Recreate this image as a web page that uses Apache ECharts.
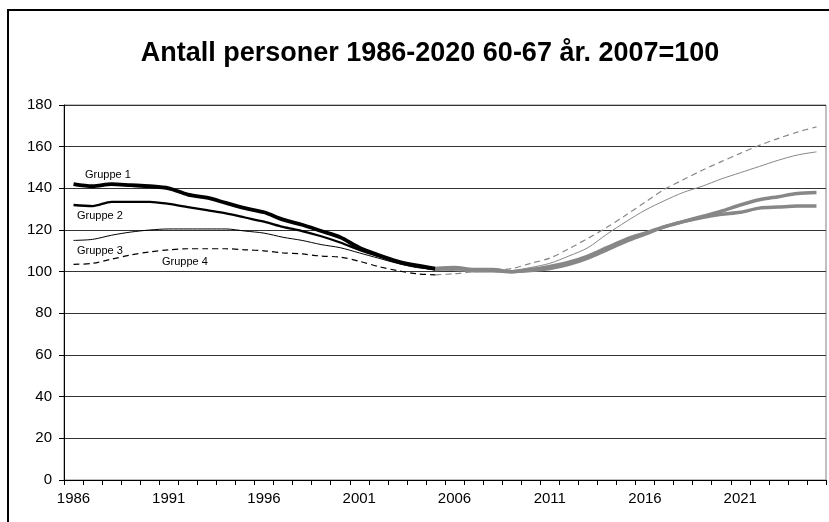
<!DOCTYPE html>
<html>
<head>
<meta charset="utf-8">
<script src="https://cdn.jsdelivr.net/npm/echarts@6/dist/echarts.min.js"></script>
<style>
  html, body { margin: 0; padding: 0; background: #fff; }
  #chart { width: 829px; height: 522px; }
</style>
</head>
<body>
<div id="chart"></div>
<script>
// Years on the category axis
const years = [];
for (let y = 1986; y <= 2025; y++) years.push(String(y));

// Registered values 1986-2005 (index, 2007 = 100)
const hist1 = [142, 141, 142, 141.5, 141, 140, 137, 135.5, 133, 130.5, 128.5, 125, 122.5, 119.5, 116.5, 111.5, 108, 105, 103, 101.5];
const hist2 = [132, 131.5, 133.5, 133.5, 133.5, 132.5, 131, 129.5, 128, 126, 124, 121.5, 119.5, 117, 114, 110.5, 107.5, 104.5, 102.5, 101];
const hist3 = [115, 115.5, 117.5, 119, 120, 120.5, 120.5, 120.5, 120.5, 119.5, 118.5, 116.5, 115, 113, 111.5, 109, 106.5, 104, 102, 101];
const hist4 = [103.5, 104, 106, 108, 109.5, 110.5, 111, 111, 111, 110.5, 110, 109, 108.5, 107.5, 107, 105, 102.5, 100.5, 99, 98.5];

// Projected values 2005-2025
const proj1 = [101.5, 102, 101, 101, 100, 100.5, 101.5, 103.5, 106.5, 110.5, 114.5, 118, 121.5, 124, 126, 127.5, 128.5, 130.5, 131, 131.5, 131.5];
const proj2 = [101, 101.5, 100.5, 100.5, 100, 101, 102.5, 104.5, 107.5, 111.5, 115.5, 118.5, 121.5, 124, 126.5, 129, 132, 134.5, 136, 137.5, 138];
const proj3 = [101, 100.5, 100, 100, 100.5, 102, 104, 107.5, 111.5, 118, 124, 129.5, 134, 138, 141, 144.5, 147.5, 150.5, 153.5, 156, 157.5];
const proj4 = [98.5, 99, 100, 100.5, 101.5, 104, 106.5, 111, 116, 121.3, 127.2, 133.3, 139.4, 144.1, 148.7, 152.8, 156.8, 160.6, 164, 167, 169.5];

const yTicks = [0, 20, 40, 60, 80, 100, 120, 140, 160, 180];
const groupNames = ['Gruppe 1', 'Gruppe 2', 'Gruppe 3', 'Gruppe 4'];

const startYear = 1986;
const projStart = 2005;

// Place a series on the full year axis, padding with nulls
function onAxis(values, firstYear) {
  const out = years.map(() => null);
  values.forEach((v, i) => { out[firstYear - startYear + i] = v; });
  return out;
}

const BLACK = '#000000';
const GREY = '#878787';
const FONT = 'Liberation Sans, Arial, sans-serif';

function lineSeries(name, values, firstYear, color, width, dashed) {
  return {
    name: name,
    type: 'line',
    data: onAxis(values, firstYear),
    showSymbol: false,
    smooth: 0.3,
    connectNulls: false,
    lineStyle: { color: color, width: width, type: dashed ? [6, 4] : 'solid' },
    emphasis: { disabled: true },
    z: dashed ? 2 : 3
  };
}

const chart = echarts.init(document.getElementById('chart'), null, { renderer: 'canvas' });

chart.setOption({
  animation: false,
  backgroundColor: '#ffffff',
  title: {
    text: 'Antall personer 1986-2020 60-67 år. 2007=100',
    left: 425,
    top: 35,
    textAlign: 'center',
    textStyle: { fontFamily: FONT, fontSize: 27, fontWeight: 'bold', color: '#000' }
  },
  grid: { left: 64, top: 105, width: 762, height: 375, show: true, borderColor: '#808080', borderWidth: 1 },
  xAxis: {
    type: 'category',
    data: years,
    boundaryGap: true,
    axisLine: { lineStyle: { color: '#000', width: 1 } },
    axisTick: { show: true, interval: 0, length: 5, lineStyle: { color: '#000' } },
    axisLabel: { interval: 4, margin: 11, color: '#000', fontSize: 15, fontFamily: FONT },
    splitLine: { show: false }
  },
  yAxis: {
    type: 'value',
    min: yTicks[0],
    max: yTicks[yTicks.length - 1],
    interval: yTicks[1] - yTicks[0],
    axisLine: { show: true, lineStyle: { color: '#000', width: 1 } },
    axisTick: { show: true, length: 5, lineStyle: { color: '#000' } },
    axisLabel: { margin: 12, color: '#000', fontSize: 15, fontFamily: FONT },
    splitLine: { show: true, lineStyle: { color: '#333', width: 1 } }
  },
  series: [
    lineSeries(groupNames[3], hist4, startYear, BLACK, 1.2, true),
    lineSeries(groupNames[2], hist3, startYear, BLACK, 1, false),
    lineSeries(groupNames[1], hist2, startYear, BLACK, 2.3, false),
    lineSeries(groupNames[0], hist1, startYear, BLACK, 3.8, false),
    lineSeries(groupNames[3] + ' fremskrevet', proj4, projStart, GREY, 1.2, true),
    lineSeries(groupNames[2] + ' fremskrevet', proj3, projStart, GREY, 1, false),
    lineSeries(groupNames[1] + ' fremskrevet', proj2, projStart, GREY, 3.5, false),
    lineSeries(groupNames[0] + ' fremskrevet', proj1, projStart, GREY, 3.5, false)
  ],
  graphic: [
    // outer chart frame
    { type: 'rect', shape: { x: 8, y: 10, width: 900, height: 600 }, style: { fill: null, stroke: '#000', lineWidth: 2 }, silent: true, z: 100 },
    // group labels
    { type: 'text', left: 85, top: 169, style: { text: groupNames[0], font: '11px "Liberation Sans", Arial, sans-serif', fill: '#000' }, z: 100 },
    { type: 'text', left: 77, top: 210, style: { text: groupNames[1], font: '11px "Liberation Sans", Arial, sans-serif', fill: '#000' }, z: 100 },
    { type: 'text', left: 77, top: 245, style: { text: groupNames[2], font: '11px "Liberation Sans", Arial, sans-serif', fill: '#000' }, z: 100 },
    { type: 'text', left: 162, top: 256, style: { text: groupNames[3], font: '11px "Liberation Sans", Arial, sans-serif', fill: '#000' }, z: 100 }
  ]
});
</script>
</body>
</html>
